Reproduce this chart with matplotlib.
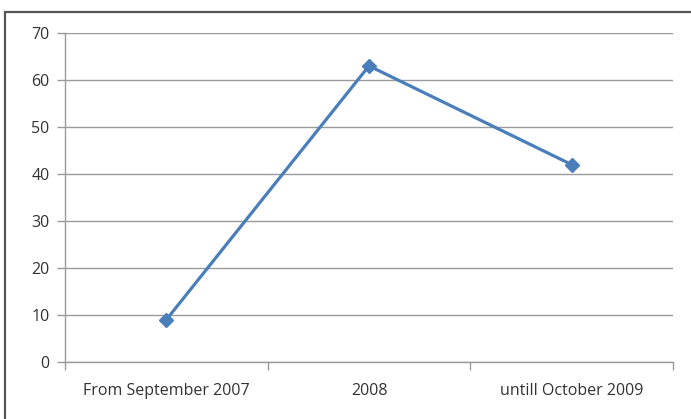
import matplotlib.pyplot as plt
import numpy as np
from matplotlib.patches import Rectangle

# ----- Data -----
periods = ["From September 2007", "2008", "untill October 2009"]
counts = [9, 63, 42]
y_ticks = [0, 10, 20, 30, 40, 50, 60, 70]

# ----- Style -----
plt.rcParams["font.family"] = ["Open Sans", "DejaVu Sans"]
plt.rcParams["font.size"] = 11.5
LINE_COLOR = "#4a7ebb"
GRID_COLOR = "#9a9a9a"
TEXT_COLOR = "#333333"

W, H = 691, 419
fig = plt.figure(figsize=(W / 100, H / 100), dpi=100)

# chart frame (top and left edges visible)
fig.patches.append(Rectangle((5 / W, -0.1), 1.2, 1 - 12 / H + 0.1,
                             transform=fig.transFigure, fill=False,
                             edgecolor="#555555", linewidth=1.6))

ax = fig.add_axes([65 / W, 1 - 362 / H, (673 - 65) / W, (362 - 33) / H])

x = np.arange(len(periods))
ax.plot(x, counts, color=LINE_COLOR, linewidth=2.3, marker="D",
        markersize=7.5, markerfacecolor=LINE_COLOR, markeredgecolor=LINE_COLOR,
        zorder=3)

ax.set_xlim(-0.5, len(periods) - 0.5)
ax.set_ylim(y_ticks[0], y_ticks[-1])
ax.set_yticks(y_ticks)
ax.grid(axis="y", color=GRID_COLOR, linewidth=1)
ax.set_axisbelow(True)

# category labels centered, ticks between categories
ax.set_xticks(x)
ax.set_xticklabels(periods, color=TEXT_COLOR)
ax.tick_params(axis="x", length=0, pad=15)
ax.set_xticks(np.arange(-0.5, len(periods)), minor=True)
ax.tick_params(axis="x", which="minor", length=6, color=GRID_COLOR, width=1)
ax.tick_params(axis="y", length=6, color=GRID_COLOR, width=1, labelcolor=TEXT_COLOR, pad=5)

for side in ["top", "right"]:
    ax.spines[side].set_visible(False)
for side in ["left", "bottom"]:
    ax.spines[side].set_color(GRID_COLOR)
    ax.spines[side].set_linewidth(1)

fig.savefig("out.png", dpi=100)
